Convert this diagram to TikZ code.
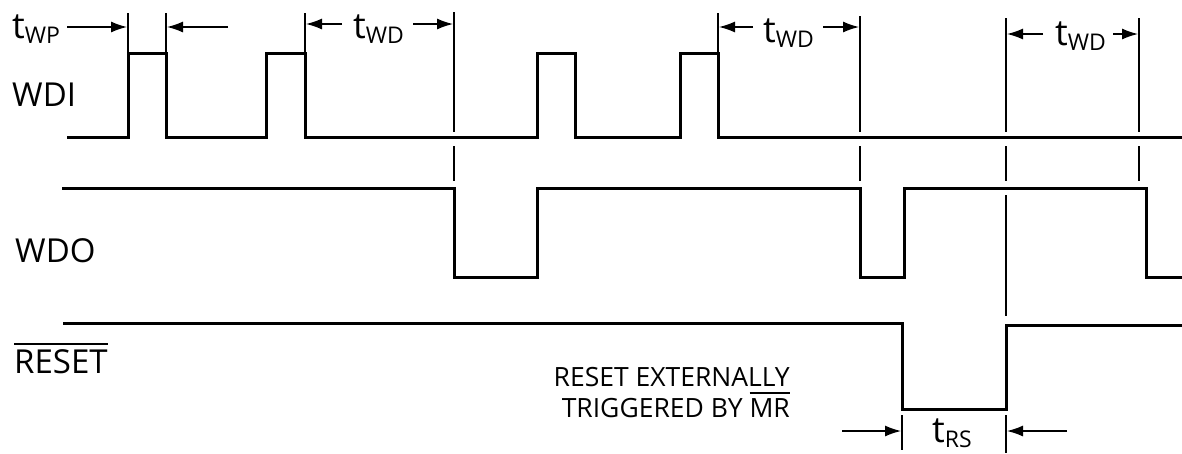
\documentclass[tikz,border=0pt]{standalone}
\usepackage{fontspec}
\setmainfont{Open Sans}
\usetikzlibrary{arrows.meta}

\newcommand{\tlabel}[1]{t\raisebox{-5pt}{\fontsize{23}{24}\selectfont #1}}
\newcommand{\barred}[1]{\vbox{\hrule height 2pt\kern 4pt\hbox{#1}}}

\begin{document}
\begin{tikzpicture}[
    x=1pt, y=-1pt,
    sig/.style={line width=3pt},
    guide/.style={line width=1.3pt},
    dim/.style={guide, -{Latex[length=16pt,width=11pt]}},
    lbl/.style={inner sep=0pt, anchor=base west, font=\fontsize{33}{36}\selectfont},
    tlbl/.style={inner sep=0pt, anchor=base west, font=\fontsize{36}{40}\selectfont},
    note/.style={inner sep=0pt, anchor=base east, font=\fontsize{26.5}{31}\selectfont}
]
\useasboundingbox (0,0) rectangle (1182,453);

% signal names
\node[lbl] (wdi) at (12,106) {WDI};
\node[lbl] (wdo) at (15,262) {WDO};
\node[lbl] (rst) at (14,373) {\barred{RESET}};

% waveforms
\draw[sig] (67,137) -- (128,137) -- (128,53) -- (166,53) -- (166,137)
    -- (266,137) -- (266,53) -- (305,53) -- (305,137)
    -- (537,137) -- (537,53) -- (575,53) -- (575,137)
    -- (680,137) -- (680,53) -- (718,53) -- (718,137) -- (1182,137);
\draw[sig] (62,188) -- (454,188) -- (454,277) -- (537,277) -- (537,188)
    -- (860,188) -- (860,277) -- (904,277) -- (904,188)
    -- (1146,188) -- (1146,277) -- (1182,277);
\draw[sig] (63,323) -- (902,323) -- (902,409) -- (1006,409) -- (1006,325) -- (1182,325);

% guide lines
\draw[guide] (128,13) -- (128,53);
\draw[guide] (166,13) -- (166,53);
\draw[guide] (305,13) -- (305,53);
\draw[guide] (718,13) -- (718,53);
\foreach \gx/\gtop in {454/12, 860/16, 1006/18, 1139/18} {
    \draw[guide] (\gx,\gtop) -- (\gx,132);
    \draw[guide] (\gx,146) -- (\gx,181);
}
\draw[guide] (1006,195) -- (1006,316);
\draw[guide] (902,415) -- (902,450);
\draw[guide] (1006,415) -- (1006,453);

% timing labels
\node[tlbl] (twp) at (12,38) {\tlabel{WP}};
\node[tlbl] (twd1) at (353,38) {\tlabel{WD}};
\node[tlbl] (twd2) at (763,42) {\tlabel{WD}};
\node[tlbl] (twd3) at (1055,45) {\tlabel{WD}};
\node[tlbl] (trs) at (932,442) {\tlabel{RS}};

\coordinate (wpA) at (127,27);
\coordinate (wpB) at (167,27);
\coordinate (wd1A) at (306,24);
\coordinate (wd1B) at (453,24);
\coordinate (wd2A) at (719,27);
\coordinate (wd2B) at (859,27);
\coordinate (wd3A) at (1007,34);
\coordinate (wd3B) at (1138,34);
\coordinate (rsA) at (901,431);
\coordinate (rsB) at (1007,431);

\draw[dim] (67,27) -- (wpA);
\draw[dim] (228,27) -- (wpB);
\draw[dim] (342,24) -- (wd1A);
\draw[dim] (413,24) -- (wd1B);
\draw[dim] (753,27) -- (wd2A);
\draw[dim] (823,27) -- (wd2B);
\draw[dim] (1043,34) -- (wd3A);
\draw[dim] (1113,34) -- (wd3B);
\draw[dim] (842,431) -- (rsA);
\draw[dim] (1067,431) -- (rsB);

% note
\node[note] (note1) at (790,386) {RESET EXTERNALLY};
\node[note] (note2) at (790,417) {TRIGGERED BY \barred{MR}};

\end{tikzpicture}
\end{document}
